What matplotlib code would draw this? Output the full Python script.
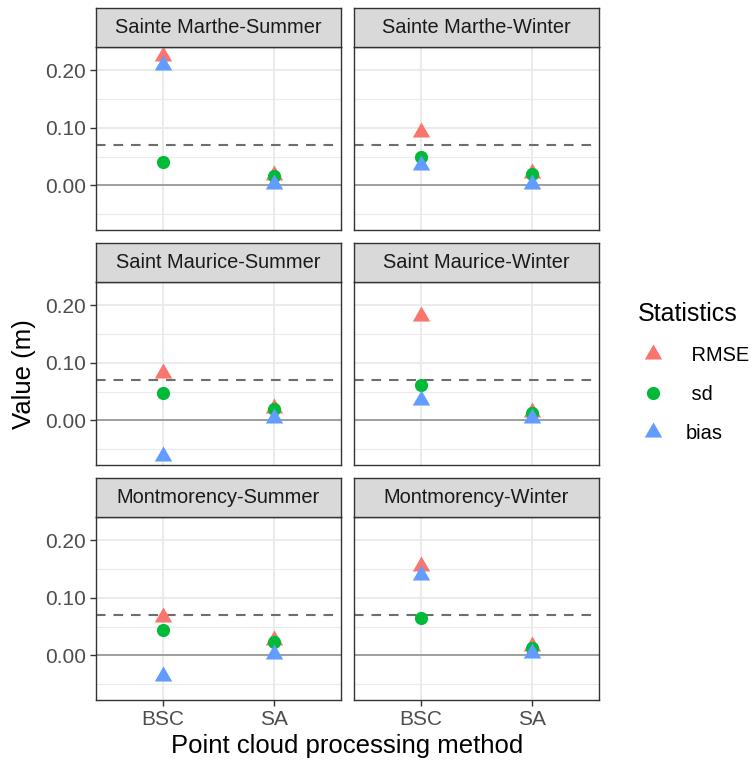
import numpy as np
import matplotlib.pyplot as plt
from matplotlib.path import Path
from matplotlib.lines import Line2D

plt.rcParams['font.family'] = ['Liberation Sans', 'DejaVu Sans']

panels = ["Sainte Marthe-Summer", "Sainte Marthe-Winter",
          "Saint Maurice-Summer", "Saint Maurice-Winter",
          "Montmorency-Summer", "Montmorency-Winter"]
methods = ["BSC", "SA"]

# values per panel: [BSC, SA]
rmse = [[0.224, 0.018], [0.092, 0.021],
        [0.083, 0.021], [0.181, 0.015],
        [0.067, 0.027], [0.155, 0.016]]
sd = [[0.041, 0.016], [0.049, 0.020],
      [0.048, 0.019], [0.062, 0.012],
      [0.044, 0.024], [0.065, 0.013]]
bias = [[0.209, 0.003], [0.036, 0.003],
        [-0.062, 0.004], [0.036, 0.004],
        [-0.035, 0.002], [0.140, 0.005]]

threshold = 0.07
stat_names = [" RMSE", " sd", "bias"]
stat_colors = ["#F8766D", "#00BA38", "#619CFF"]

# equilateral triangle, centred on its centroid
tri = Path([(-1, -0.577), (1, -0.577), (0, 1.155), (-1, -0.577)],
           [Path.MOVETO, Path.LINETO, Path.LINETO, Path.CLOSEPOLY])
markers = [tri, "o", tri]
msizes = [14.5, 9.5, 14.5]

W, H = 754, 761
fig = plt.figure(figsize=(W / 100, H / 100), dpi=100)

cols = [(96, 341), (354, 599)]
rows = [(47, 230), (282, 465), (517, 700)]
strip_h = 39

x = np.arange(len(methods))
for i, name in enumerate(panels):
    r, c = divmod(i, 2)
    x0, x1 = cols[c]
    y0, y1 = rows[r]
    ax = fig.add_axes([x0 / W, 1 - y1 / H, (x1 - x0) / W, (y1 - y0) / H])
    ax.set_xlim(-0.6, 1.6)
    ax.set_ylim(-0.0775, 0.2405)
    ax.set_yticks([0, 0.1, 0.2])
    ax.set_yticks([-0.05, 0.05, 0.15], minor=True)
    ax.set_yticklabels(["0.00", "0.10", "0.20"])
    ax.set_xticks(x)
    ax.set_xticklabels(methods)
    ax.grid(which="major", color="#EBEBEB", lw=1.4, zorder=0)
    ax.grid(which="minor", axis="y", color="#EBEBEB", lw=0.8, zorder=0)
    ax.set_axisbelow(True)
    for sp in ax.spines.values():
        sp.set_color("#333333")
        sp.set_linewidth(1.0)
    ax.tick_params(which="both", length=4, width=1, color="#333333",
                   labelcolor="#4D4D4D", labelsize=15, pad=3)
    ax.tick_params(which="minor", length=0)
    if c == 1:
        ax.tick_params(axis="y", which="both", length=0, labelleft=False)
    if r < 2:
        ax.tick_params(axis="x", length=0, labelbottom=False)

    ax.axhline(0, color="#999999", lw=1.3, zorder=1)
    ax.axhline(threshold, color="#6E6E6E", lw=1.5, ls=(0, (4.6, 3.8)), zorder=1)

    for vals, m, ms, col in zip([rmse, sd, bias], markers, msizes, stat_colors):
        ax.plot(x, vals[i], ls="none", marker=m, ms=ms, color=col,
                mec="none", zorder=3)

    sax = fig.add_axes([x0 / W, 1 - y0 / H, (x1 - x0) / W, strip_h / H])
    sax.set_facecolor("#D9D9D9")
    sax.set_xticks([])
    sax.set_yticks([])
    for sp in sax.spines.values():
        sp.set_color("#333333")
        sp.set_linewidth(1.0)
    sax.text(0.5, 0.5, name, ha="center", va="center", fontsize=14.4,
             color="#1A1A1A", transform=sax.transAxes)

fig.text(24 / W, 1 - 374 / H, "Value (m)", rotation=90, ha="center",
         va="center", fontsize=18.5)
fig.text(347 / W, 1 - 746 / H, "Point cloud processing method",
         ha="center", va="center", fontsize=18.5)

handles = [Line2D([], [], ls="none", marker=m, ms=ms, color=col, mec="none")
           for m, ms, col in zip(markers, msizes, stat_colors)]
leg = fig.legend(handles, stat_names, loc="upper left",
                 bbox_to_anchor=(620 / W, 1 - 284 / H), frameon=False,
                 title="Statistics", title_fontsize=18, fontsize=14.4,
                 labelspacing=1.0, handletextpad=0.9, handlelength=1.5,
                 alignment="left")

fig.savefig("out.png", dpi=100)
